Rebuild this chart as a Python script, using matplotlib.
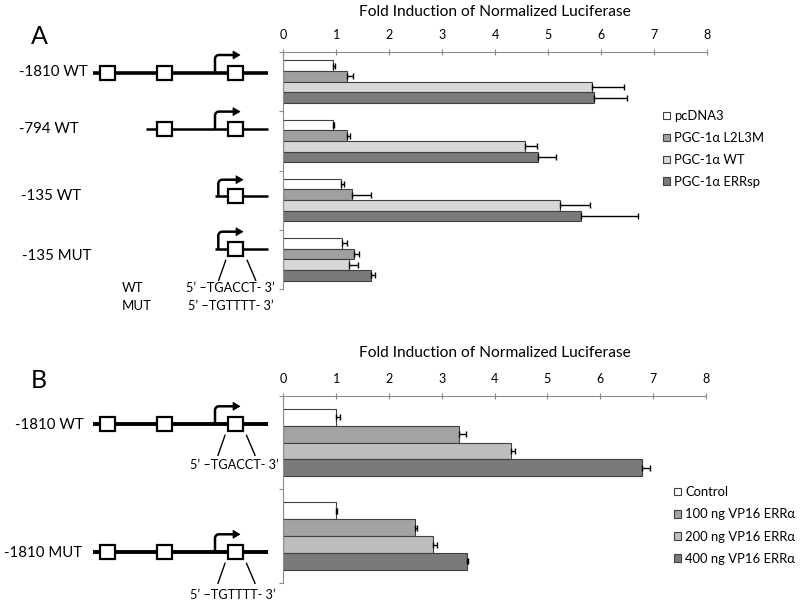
import matplotlib
matplotlib.use('Agg')
import matplotlib.pyplot as plt
import numpy as np
from matplotlib.patches import Rectangle, Polygon

plt.rcParams['font.family'] = ['Lato', 'DejaVu Sans']

# panel A data
a_constructs = ['-1810 WT', '-794 WT', '-135 WT', '-135 MUT']
a_series = ['pcDNA3', 'PGC-1\u03b1 L2L3M', 'PGC-1\u03b1 WT', 'PGC-1\u03b1 ERRsp']
a_values = [[0.93, 0.945, 1.09, 1.10],
            [1.21, 1.20, 1.29, 1.34],
            [5.84, 4.575, 5.22, 1.235],
            [5.88, 4.82, 5.62, 1.65]]
a_errors = [[0.05, 0.02, 0.06, 0.11],
            [0.11, 0.06, 0.37, 0.095],
            [0.59, 0.21, 0.57, 0.18],
            [0.61, 0.33, 1.08, 0.09]]

# panel B data
b_constructs = ['-1810 WT', '-1810 MUT']
b_series = ['Control', '100 ng VP16 ERR\u03b1', '200 ng VP16 ERR\u03b1', '400 ng VP16 ERR\u03b1']
b_values = [[1.00, 1.00],
            [3.32, 2.50],
            [4.31, 2.84],
            [6.79, 3.48]]
b_errors = [[0.08, 0.02],
            [0.145, 0.04],
            [0.08, 0.075],
            [0.16, 0.01]]

a_colors = ['white', '#a0a0a0', '#d8d8d8', '#7a7a7a']
b_colors = ['white', '#a3a3a3', '#bdbdbd', '#7a7a7a']

W, H = 800, 605
fig = plt.figure(figsize=(8, 6.05), dpi=100)
ax0 = fig.add_axes([0, 0, 1, 1])
ax0.set_xlim(0, W)
ax0.set_ylim(H, 0)
ax0.axis('off')


def bar_panel(rect, values, errors, colors, labels, n):
    left, top, right, bottom = rect
    ax = fig.add_axes([left / W, 1 - bottom / H, (right - left) / W, (bottom - top) / H])
    h = 0.18
    for k in range(len(values)):
        y = np.arange(n) + 0.5 - 1.5 * h + k * h
        ax.barh(y, values[k], height=h, color=colors[k], edgecolor='#404040',
                linewidth=0.8, label=labels[k], zorder=2)
        ax.errorbar(values[k], y, xerr=[np.zeros(n), errors[k]], fmt='none',
                    ecolor='black', elinewidth=1, capsize=2.5, capthick=1, zorder=3)
    ax.set_xlim(0, 8)
    ax.set_ylim(n, 0)
    ax.xaxis.tick_top()
    ax.set_xticks(range(9))
    ax.tick_params(axis='x', direction='inout', length=4.5, color='#8c8c8c',
                   labelsize=9, pad=5.5)
    ax.set_yticks(range(n + 1))
    ax.set_yticklabels([])
    ax.tick_params(axis='y', direction='out', length=3, color='#8c8c8c')
    for s in ['right', 'bottom']:
        ax.spines[s].set_visible(False)
    for s in ['top', 'left']:
        ax.spines[s].set_color('#8c8c8c')
    ax.patch.set_alpha(0)
    return ax


axA = bar_panel((283.3, 52, 706.7, 289), a_values, a_errors, a_colors, a_series, 4)
axB = bar_panel((283.3, 395.7, 705.7, 583), b_values, b_errors, b_colors, b_series, 2)

legA = axA.legend(loc='upper left', bbox_to_anchor=(663 / W, 1 - 110.4 / H),
                  bbox_transform=fig.transFigure, frameon=False, fontsize=9.4,
                  handlelength=0.5, handleheight=0.5, handletextpad=0.38,
                  labelspacing=0.75, borderpad=0, borderaxespad=0)
legB = axB.legend(loc='upper left', bbox_to_anchor=(674 / W, 1 - 486.4 / H),
                  bbox_transform=fig.transFigure, frameon=False, fontsize=9.4,
                  handlelength=0.5, handleheight=0.5, handletextpad=0.38,
                  labelspacing=0.77, borderpad=0, borderaxespad=0)

ax0.text(495, 12.5, 'Fold Induction of Normalized Luciferase', ha='center', va='center', fontsize=11.2)
ax0.text(495, 353, 'Fold Induction of Normalized Luciferase', ha='center', va='center', fontsize=11.2)
ax0.text(39, 36, 'A', ha='center', va='center', fontsize=18)
ax0.text(38.5, 380, 'B', ha='center', va='center', fontsize=18)


def promoter(y, x0, lw, boxes, ax_x, tip_x, rise, slash=False):
    ax0.plot([x0, 268], [y, y], color='black', lw=lw, solid_capstyle='butt', zorder=2)
    for bx in boxes:
        ax0.add_patch(Rectangle((bx - 7.5, y - 7), 15, 14, fc='white', ec='black', lw=1.6, zorder=3))
    r = 4
    yt = y - rise
    t = np.linspace(0, np.pi / 2, 10)
    xs = [ax_x] + list(ax_x + r - r * np.cos(t)) + [tip_x - 6]
    ys = [y] + list(yt + r - r * np.sin(t)) + [yt]
    ax0.plot(xs, ys, color='black', lw=1.8, zorder=2, solid_capstyle='butt')
    ax0.add_patch(Polygon([(tip_x - 7, yt - 4), (tip_x, yt), (tip_x - 7, yt + 4)],
                          closed=True, fc='black', ec='black', lw=0.5, zorder=3))
    if slash:
        bx = boxes[-1]
        ax0.plot([bx - 10, bx - 17], [y + 11, y + 31], color='black', lw=1)
        ax0.plot([bx + 11.5, bx + 20], [y + 11, y + 31], color='black', lw=1)


# panel A diagrams
promoter(72.7, 93.3, 2.6, [107.3, 164, 235], 215, 240, 17.7)
promoter(129.3, 145.7, 1.8, [164, 235], 215, 240, 17.7)
promoter(195.7, 215, 1.8, [235.5], 218.3, 243, 16)
promoter(249.3, 215, 1.8, [235.7], 218.3, 243, 17.6, slash=True)
ax0.text(19, 71.7, a_constructs[0], ha='left', va='center', fontsize=10.8)
ax0.text(19, 129.3, a_constructs[1], ha='left', va='center', fontsize=10.8)
ax0.text(21, 196, a_constructs[2], ha='left', va='center', fontsize=10.8)
ax0.text(22, 256, a_constructs[3], ha='left', va='center', fontsize=10.8)
ax0.text(122, 288, 'WT', ha='left', va='center', fontsize=9.5)
ax0.text(122, 306, 'MUT', ha='left', va='center', fontsize=9.5)
ax0.text(230.5, 288, '5\u2019 \u2013TGACCT- 3\u2019', ha='center', va='center', fontsize=9.2)
ax0.text(230.5, 306, '5\u2019 \u2013TGTTTT- 3\u2019', ha='center', va='center', fontsize=9.2)

# panel B diagrams
promoter(424.3, 93.3, 2.8, [107.3, 164, 235], 215, 240, 18, slash=True)
promoter(552.3, 93.3, 2.8, [107.3, 164, 235], 215, 240, 18, slash=True)
ax0.text(84, 425, b_constructs[0], ha='right', va='center', fontsize=10.8)
ax0.text(82, 553, b_constructs[1], ha='right', va='center', fontsize=10.8)
ax0.text(234.5, 465, '5\u2019 \u2013TGACCT- 3\u2019', ha='center', va='center', fontsize=9.2)
ax0.text(232.5, 595, '5\u2019 \u2013TGTTTT- 3\u2019', ha='center', va='center', fontsize=9.2)

fig.savefig('out.png', dpi=100)
